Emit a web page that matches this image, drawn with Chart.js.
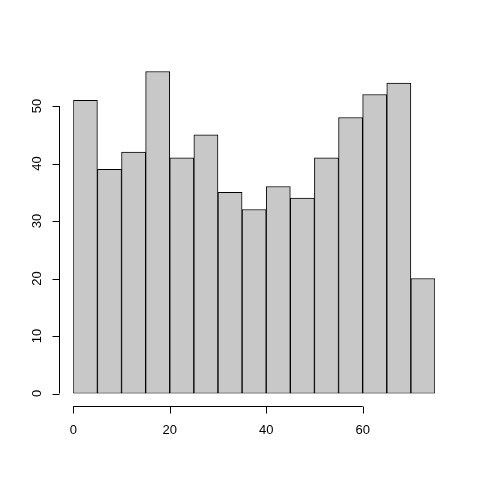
<!DOCTYPE html>
<html lang="en">
<head>
    <meta charset="UTF-8">
    <title>Histogram</title>
    <script src="https://cdn.jsdelivr.net/npm/chart.js"></script>
    <style>
        body { margin: 0; background: #fff; }
    </style>
</head>
<body>
    <canvas id="chart" width="480" height="480"></canvas>
    <script>
        // histogram data (bin starts, counts), ticks
        var binStarts = [0, 5, 10, 15, 20, 25, 30, 35, 40, 45, 50, 55, 60, 65, 70];
        var binWidth = 5;
        var counts = [51, 39, 42, 56, 41, 45, 35, 32, 36, 34, 41, 48, 52, 54, 20];
        var xTicks = [0, 20, 40, 60];
        var yTicks = [0, 10, 20, 30, 40, 50];

        var font = '13px "Liberation Sans", Arial, sans-serif';

        // R style detached axes
        var rAxes = {
            id: 'rAxes',
            afterDraw: function (chart) {
                var ctx = chart.ctx;
                var xs = chart.scales.x;
                var ys = chart.scales.y;
                var axisY = 406.5;
                var axisX = 59.5;
                var tick = 7;
                ctx.save();
                ctx.strokeStyle = '#000';
                ctx.lineWidth = 1;
                ctx.fillStyle = '#000';
                ctx.font = font;

                // x axis
                ctx.beginPath();
                ctx.moveTo(xs.getPixelForValue(xTicks[0]), axisY);
                ctx.lineTo(xs.getPixelForValue(xTicks[xTicks.length - 1]), axisY);
                xTicks.forEach(function (t) {
                    var px = Math.round(xs.getPixelForValue(t)) + 0.5;
                    ctx.moveTo(px, axisY);
                    ctx.lineTo(px, axisY + tick);
                });
                ctx.stroke();
                ctx.textAlign = 'center';
                ctx.textBaseline = 'middle';
                xTicks.forEach(function (t) {
                    ctx.fillText(String(t), xs.getPixelForValue(t), 430);
                });

                // y axis
                ctx.beginPath();
                ctx.moveTo(axisX, ys.getPixelForValue(yTicks[0]));
                ctx.lineTo(axisX, ys.getPixelForValue(yTicks[yTicks.length - 1]));
                yTicks.forEach(function (t) {
                    var py = Math.round(ys.getPixelForValue(t)) + 0.5;
                    ctx.moveTo(axisX, py);
                    ctx.lineTo(axisX - tick, py);
                });
                ctx.stroke();
                yTicks.forEach(function (t) {
                    ctx.save();
                    ctx.translate(37, ys.getPixelForValue(t));
                    ctx.rotate(-Math.PI / 2);
                    ctx.fillText(String(t), 0, 0);
                    ctx.restore();
                });
                ctx.restore();
            }
        };

        var chart = new Chart(document.getElementById('chart'), {
            type: 'bar',
            data: {
                datasets: [{
                    data: counts.map(function (c, i) {
                        return { x: binStarts[i] + binWidth / 2, y: c };
                    }),
                    backgroundColor: '#c8c8c8',
                    borderColor: '#000',
                    borderWidth: 1,
                    borderSkipped: false,
                    barPercentage: 1,
                    categoryPercentage: 1
                }]
            },
            options: {
                responsive: false,
                animation: false,
                devicePixelRatio: 1,
                layout: { padding: { left: 73.3, right: 45, top: 48.5, bottom: 86.5 } },
                plugins: { legend: { display: false }, tooltip: { enabled: false } },
                scales: {
                    x: { type: 'linear', min: 0, max: 75, offset: false, display: false },
                    y: { min: 0, max: 60, display: false }
                }
            },
            plugins: [rAxes]
        });
    </script>
</body>
</html>
